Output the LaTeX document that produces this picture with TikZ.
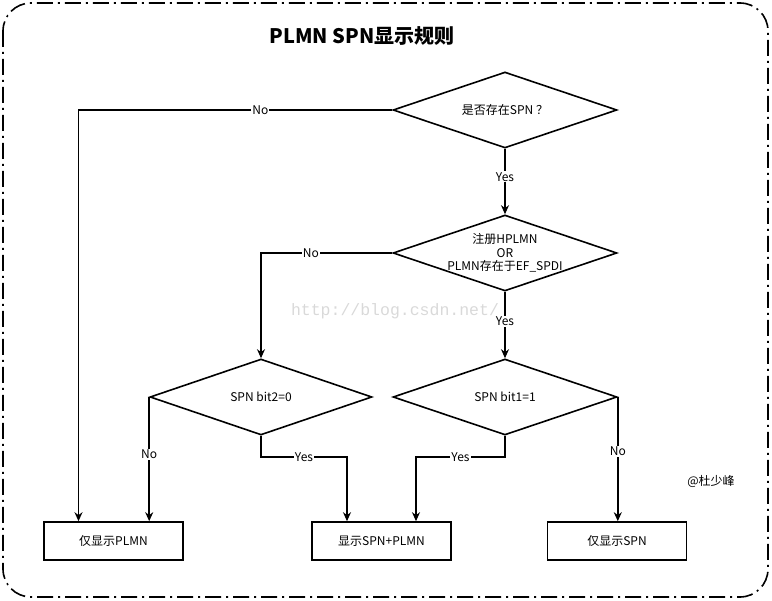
\documentclass[tikz,border=0pt]{standalone}
\usepackage{fontspec}
\setmainfont{Noto Sans CJK SC}
\newfontfamily\wmfont{Liberation Mono}
\usetikzlibrary{shapes.geometric,arrows.meta}
\begin{document}
\begin{tikzpicture}[x=1pt,y=-1pt,
  line/.style={line width=1.6pt},
  arr/.style={line, -{Stealth[length=9pt,width=8pt]}},
  dec/.style={diamond, draw, line width=1.6pt, minimum width=224pt, minimum height=76pt, inner sep=0pt, aspect=2.95, font=\fontsize{12}{14}\selectfont, align=center},
  box/.style={rectangle, draw, line width=1.6pt, minimum width=139pt, minimum height=38pt, font=\fontsize{12}{14}\selectfont},
  lbl/.style={fill=white, inner sep=1pt, font=\fontsize{12}{13}\selectfont}]
\useasboundingbox (0,0) rectangle (772,601);
\draw[line width=1.6pt, rounded corners=28pt, dash pattern=on 16pt off 5pt on 2pt off 5pt] (3,3) rectangle (768,597);
\node[font=\fontsize{20}{24}\selectfont\bfseries] (title) at (362,36) {PLMN SPN显示规则};
\node[text=black!15, font=\wmfont\fontsize{16.5}{18}\selectfont] (wm) at (395,311) {http://blog.csdn.net/};
\node[dec] (d1) at (505,110) {是否存在SPN ？};
\node[dec, inner sep=-6pt, font=\fontsize{12}{13.5}\selectfont] (d2) at (505,253) {注册HPLMN\\OR\\PLMN存在于EF\_SPDI};
\node[dec, minimum width=222pt] (d3) at (261,397) {SPN bit2=0};
\node[dec] (d4) at (505,397) {SPN bit1=1};
\node[box] (b1) at (113.5,541) {仅显示PLMN};
\node[box] (b2) at (381.5,541) {显示SPN+PLMN};
\node[box] (b3) at (617,541) {仅显示SPN};
\node[font=\fontsize{12}{14}\selectfont] (sig) at (711,481) {@杜少峰};
\draw[arr] (d1.west) -| node[lbl,pos=0.21]{No} ([xshift=-35pt]b1.north);
\draw[arr] (d1.south) -- node[lbl,pos=0.43]{Yes} (d2.north);
\draw[arr] (d2.west) -| node[lbl,pos=0.31]{No} (d3.north);
\draw[arr] (d2.south) -- node[lbl,pos=0.45]{Yes} (d4.north);
\draw[arr] (d3.west) -- node[lbl,pos=0.46]{No} (d3.west |- b1.north);
\draw[arr] (d3.south) -- ++(0,21) -| node[lbl,pos=0.25]{Yes} ([xshift=-34.5pt]b2.north);
\draw[arr] (d4.south) -- ++(0,21) -| node[lbl,pos=0.25]{Yes} ([xshift=34.5pt]b2.north);
\draw[arr] (d4.east) -- node[lbl,pos=0.44]{No} (d4.east |- b3.north);
\end{tikzpicture}
\end{document}
